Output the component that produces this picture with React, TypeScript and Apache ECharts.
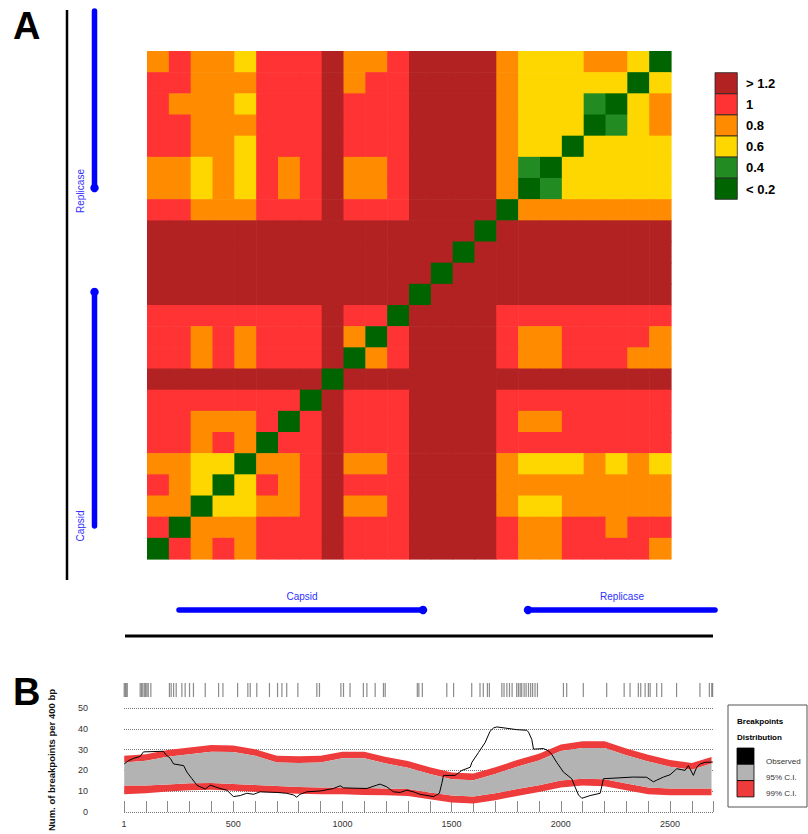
import React, { useEffect, useRef } from "react";
import * as echarts from "echarts";

// ---- Panel A: pairwise ratio matrix (rows listed top to bottom, columns left to right)
const D = 1.3, R = 1.0, O = 0.8, Y = 0.6, g = 0.4, G = 0.1;
const ratioRowsTopDown: number[][] = [
  [O, R, O, O, Y, R, R, R, D, O, O, R, D, D, D, D, O, Y, Y, Y, O, O, Y, G],
  [R, R, O, O, O, R, R, R, D, O, R, R, D, D, D, D, O, Y, Y, Y, Y, Y, G, Y],
  [R, O, O, O, Y, R, R, R, D, R, R, R, D, D, D, D, O, Y, Y, Y, g, G, Y, O],
  [R, R, O, O, O, R, R, R, D, R, R, R, D, D, D, D, O, Y, Y, Y, G, g, Y, O],
  [R, R, O, O, Y, R, R, R, D, R, R, R, D, D, D, D, O, Y, Y, G, Y, Y, Y, Y],
  [O, O, Y, O, Y, R, O, R, D, O, O, R, D, D, D, D, O, g, G, Y, Y, Y, Y, Y],
  [O, O, Y, O, Y, R, O, R, D, O, O, R, D, D, D, D, O, G, g, Y, Y, Y, Y, Y],
  [R, R, O, O, O, R, R, R, D, R, R, R, D, D, D, D, G, O, O, O, O, O, O, O],
  [D, D, D, D, D, D, D, D, D, D, D, D, D, D, D, G, D, D, D, D, D, D, D, D],
  [D, D, D, D, D, D, D, D, D, D, D, D, D, D, G, D, D, D, D, D, D, D, D, D],
  [D, D, D, D, D, D, D, D, D, D, D, D, D, G, D, D, D, D, D, D, D, D, D, D],
  [D, D, D, D, D, D, D, D, D, D, D, D, G, D, D, D, D, D, D, D, D, D, D, D],
  [R, R, R, R, R, R, R, R, D, R, R, G, D, D, D, D, R, R, R, R, R, R, R, R],
  [R, R, O, R, O, R, R, R, D, O, G, R, D, D, D, D, R, O, O, R, R, R, R, O],
  [R, R, O, R, O, R, R, R, D, G, O, R, D, D, D, D, R, O, O, R, R, R, O, O],
  [D, D, D, D, D, D, D, D, G, D, D, D, D, D, D, D, D, D, D, D, D, D, D, D],
  [R, R, R, R, R, R, R, G, D, R, R, R, D, D, D, D, R, R, R, R, R, R, R, R],
  [R, R, O, O, O, R, G, R, D, R, R, R, D, D, D, D, R, O, O, R, R, R, R, R],
  [R, R, O, R, O, G, R, R, D, R, R, R, D, D, D, D, R, R, R, R, R, R, R, R],
  [O, O, Y, Y, G, O, O, R, D, O, O, R, D, D, D, D, O, Y, Y, Y, O, Y, O, Y],
  [R, O, Y, G, Y, R, O, R, D, R, R, R, D, D, D, D, O, O, O, O, O, O, O, O],
  [O, O, G, Y, Y, O, O, R, D, O, O, R, D, D, D, D, O, Y, Y, O, O, O, O, O],
  [R, G, O, O, O, R, R, R, D, R, R, R, D, D, D, D, R, O, O, R, R, O, R, R],
  [G, R, O, R, O, R, R, R, D, R, R, R, D, D, D, D, R, O, O, R, R, R, R, O],
];

const legendLabels = ["> 1.2", "1", "0.8", "0.6", "0.4", "< 0.2"];
const legendColors = ["#B22222", "#FF3333", "#FF8C00", "#FFD700", "#228B22", "#006400"];

// ---- Panel B: breakpoint distribution
const bandPos = [1, 100, 200, 300, 400, 500, 600, 700, 800, 900, 1000, 1100, 1200, 1300, 1400, 1500, 1600, 1700, 1800, 1900, 2000, 2100, 2200, 2300, 2400, 2500, 2600, 2690];
const ci99Upper = [27.0, 27.8, 29.8, 31.0, 32.2, 32.0, 30.2, 27.0, 26.8, 27.0, 29.0, 29.0, 26.5, 24.5, 21.5, 19.0, 18.5, 21.5, 25.0, 28.0, 32.5, 34.0, 34.0, 30.5, 27.5, 25.0, 23.5, 26.5];
const ci95Upper = [23.8, 24.6, 26.6, 27.8, 29.0, 28.8, 27.0, 23.8, 23.6, 23.8, 25.8, 25.8, 23.3, 21.3, 18.3, 15.8, 15.3, 18.3, 21.8, 24.8, 29.3, 30.8, 30.8, 27.3, 24.3, 21.8, 20.3, 23.3];
const ci95Lower = [12.8, 12.8, 13.2, 13.8, 14.0, 13.5, 13.0, 12.5, 12.0, 11.8, 11.8, 11.5, 11.3, 11.0, 9.4, 7.9, 7.4, 9.0, 11.0, 12.9, 15.1, 16.0, 15.7, 13.7, 11.8, 11.3, 11.3, 11.3];
const ci99Lower = [8.5, 9.0, 9.9, 10.5, 10.7, 10.2, 9.7, 9.2, 8.8, 8.5, 8.5, 8.2, 8.0, 7.7, 6.1, 4.6, 4.1, 5.7, 7.7, 9.6, 11.8, 12.7, 12.4, 10.4, 8.5, 8.0, 8.0, 8.0];

const observedPos = [1, 21, 44, 74, 89, 181, 189, 212, 227, 273, 288, 311, 334, 349, 372, 395, 418, 440, 471, 501, 532, 562, 593, 623, 700, 745, 776, 791, 806, 837, 898, 959, 990, 1005, 1112, 1157, 1173, 1203, 1234, 1264, 1295, 1325, 1356, 1417, 1444, 1455, 1463, 1516, 1547, 1585, 1593, 1623, 1653, 1676, 1692, 1707, 1798, 1844, 1852, 1867, 1875, 1920, 1943, 1958, 1981, 2012, 2050, 2065, 2081, 2096, 2134, 2180, 2187, 2195, 2332, 2393, 2424, 2439, 2470, 2500, 2531, 2569, 2584, 2607, 2622, 2638, 2661, 2696];
const observedVal = [23.1, 24.7, 25.8, 26.7, 28.9, 29.2, 27.8, 25.8, 23.1, 22.3, 19.2, 16.0, 12.9, 12.1, 11.0, 12.9, 12.1, 11.3, 10.5, 7.4, 7.9, 9.0, 8.5, 9.7, 9.4, 9.0, 8.2, 7.1, 8.5, 9.7, 10.1, 11.3, 12.6, 11.6, 11.3, 12.9, 13.4, 12.1, 9.7, 9.4, 10.5, 9.7, 8.5, 7.4, 9.0, 13.7, 17.6, 17.6, 20.0, 21.5, 23.9, 28.6, 33.3, 38.8, 40.4, 40.9, 39.6, 39.3, 38.4, 34.9, 30.2, 30.5, 29.4, 27.8, 23.9, 19.2, 16.0, 12.1, 8.2, 6.6, 7.9, 9.0, 12.1, 16.0, 16.8, 16.7, 14.5, 15.3, 16.8, 17.9, 20.8, 20.0, 22.3, 17.6, 21.5, 23.1, 23.9, 24.0];

const breakpointPos = [1, 6, 10, 15, 74, 80, 86, 93, 99, 105, 111, 123, 208, 216, 227, 239, 265, 280, 300, 318, 372, 433, 453, 520, 567, 578, 608, 666, 703, 723, 745, 796, 883, 895, 993, 1005, 1035, 1096, 1112, 1150, 1188, 1196, 1343, 1350, 1366, 1478, 1509, 1592, 1630, 1645, 1664, 1673, 1730, 1740, 1753, 1765, 1777, 1798, 1806, 1814, 1821, 1832, 1841, 1852, 1862, 1871, 1882, 1893, 2012, 2027, 2103, 2210, 2290, 2317, 2355, 2366, 2386, 2401, 2409, 2439, 2462, 2530, 2637, 2680, 2691, 2695];

const bLegendLabels = ["Observed", "95% C.I.", "99% C.I."];
const bLegendColors = ["#000000", "#B3B3B3", "#EE3B3B"];

const FONT = "'Liberation Sans', Arial, sans-serif";
const BLUE = "#0000FF";

function bandSeries(lo: number[], hi: number[], color: string, z: number) {
  return {
    type: "custom",
    xAxisIndex: 1,
    yAxisIndex: 1,
    silent: true,
    z,
    data: bandPos.map((x, i) => [x, lo[i], hi[i]]),
    renderItem: (params: any, api: any) => {
      if (params.dataIndex !== 0) return null;
      const top = bandPos.map((x, i) => api.coord([x, hi[i]]));
      const bot = bandPos.map((x, i) => api.coord([x, lo[i]])).reverse();
      return { type: "polygon", shape: { points: top.concat(bot) }, style: { fill: color } };
    },
  };
}

export default function App() {
  const ref = useRef<HTMLDivElement>(null);
  useEffect(() => {
    const chart = echarts.init(ref.current!, null, { renderer: "svg" });
    const n = ratioRowsTopDown.length;
    const idx = Array.from({ length: n }, (_, i) => String(i));
    const heatData: number[][] = [];
    ratioRowsTopDown.forEach((row, r) => row.forEach((v, c) => heatData.push([c, n - 1 - r, v])));

    const graphic: any[] = [
      { type: "text", style: { text: "A", x: 13, y: 26, font: `bold 38px ${FONT}`, fill: "#000", textVerticalAlign: "middle" } },
      { type: "text", style: { text: "B", x: 13, y: 692, font: `bold 38px ${FONT}`, fill: "#000", textVerticalAlign: "middle" } },
      { type: "line", shape: { x1: 67, y1: 10, x2: 67, y2: 580 }, style: { stroke: "#000", lineWidth: 2.5 } },
      { type: "line", shape: { x1: 125, y1: 636, x2: 713, y2: 636 }, style: { stroke: "#000", lineWidth: 3 } },
      // vertical gene arrows
      { type: "line", shape: { x1: 94.5, y1: 11, x2: 94.5, y2: 188 }, style: { stroke: BLUE, lineWidth: 5.5, lineCap: "round" } },
      { type: "circle", shape: { cx: 94.5, cy: 188, r: 4.2 }, style: { fill: BLUE } },
      { type: "line", shape: { x1: 94.5, y1: 292, x2: 94.5, y2: 526 }, style: { stroke: BLUE, lineWidth: 5.5, lineCap: "round" } },
      { type: "circle", shape: { cx: 94.5, cy: 292, r: 4.2 }, style: { fill: BLUE } },
      { type: "text", x: 80, y: 191, rotation: Math.PI / 2, style: { text: "Replicase", x: 0, y: 0, font: `10px ${FONT}`, fill: "#3030FF", textAlign: "center", textVerticalAlign: "middle" } },
      { type: "text", x: 80, y: 526, rotation: Math.PI / 2, style: { text: "Capsid", x: 0, y: 0, font: `10px ${FONT}`, fill: "#3030FF", textAlign: "center", textVerticalAlign: "middle" } },
      // horizontal gene arrows
      { type: "line", shape: { x1: 179, y1: 610, x2: 423, y2: 610 }, style: { stroke: BLUE, lineWidth: 5.5, lineCap: "round" } },
      { type: "circle", shape: { cx: 423, cy: 610, r: 4.2 }, style: { fill: BLUE } },
      { type: "line", shape: { x1: 528, y1: 610, x2: 715, y2: 610 }, style: { stroke: BLUE, lineWidth: 5.5, lineCap: "round" } },
      { type: "circle", shape: { cx: 528, cy: 610, r: 4.2 }, style: { fill: BLUE } },
      { type: "text", style: { text: "Capsid", x: 302, y: 596, font: `10px ${FONT}`, fill: "#3030FF", textAlign: "center", textVerticalAlign: "middle" } },
      { type: "text", style: { text: "Replicase", x: 622, y: 596, font: `10px ${FONT}`, fill: "#3030FF", textAlign: "center", textVerticalAlign: "middle" } },
      // panel B legend box
      { type: "rect", shape: { x: 728, y: 705, width: 79, height: 102 }, style: { fill: "#fff", stroke: "#555", lineWidth: 1 } },
      { type: "text", style: { text: "Breakpoints", x: 737, y: 721, font: `bold 8px ${FONT}`, fill: "#000", textVerticalAlign: "middle" } },
      { type: "text", style: { text: "Distribution", x: 737, y: 737, font: `bold 8px ${FONT}`, fill: "#000", textVerticalAlign: "middle" } },
    ];
    legendLabels.forEach((lab, i) => {
      graphic.push({ type: "rect", shape: { x: 715, y: 72.7 + i * 21.1, width: 22.3, height: 21.1 }, style: { fill: legendColors[i], stroke: "#222", lineWidth: 0.8 } });
      graphic.push({ type: "text", style: { text: lab, x: 746, y: 72.7 + i * 21.1 + 10.8, font: `bold 13px ${FONT}`, fill: "#000", textVerticalAlign: "middle" } });
    });
    bLegendLabels.forEach((lab, i) => {
      graphic.push({ type: "rect", shape: { x: 737, y: 748 + i * 16.3, width: 17, height: 16.3 }, style: { fill: bLegendColors[i], stroke: "#000", lineWidth: 0.8 } });
      graphic.push({ type: "text", style: { text: lab, x: 766, y: 761 + i * 16, font: `8px ${FONT}`, fill: "#333", textVerticalAlign: "middle" } });
    });

    const option: any = {
      animation: false,
      backgroundColor: "#fff",
      textStyle: { fontFamily: FONT },
      grid: [
        { left: 147, top: 51, width: 524, height: 508 },
        { left: 124, top: 708, width: 589.7, height: 106 },
        { left: 124, top: 683, width: 589.7, height: 14 },
      ],
      xAxis: [
        { gridIndex: 0, type: "category", data: idx, show: false },
        {
          gridIndex: 1, type: "value", min: 0, max: 2700, interval: 100, offset: 4,
          axisLine: { show: false },
          axisTick: { show: true, inside: true, length: 11, lineStyle: { color: "#8a8a8a", width: 1 } },
          splitLine: { show: false },
          axisLabel: { margin: 3, fontSize: 9, color: "#333", formatter: (v: number) => (v === 0 ? "1" : v % 500 === 0 ? String(v) : "") },
        },
        { gridIndex: 2, type: "value", min: 0, max: 2700, show: false },
      ],
      yAxis: [
        { gridIndex: 0, type: "category", data: idx, show: false },
        {
          gridIndex: 1, type: "value", min: 0, max: 50, interval: 10,
          axisLine: { show: false }, axisTick: { show: false },
          axisLabel: { margin: 36, fontSize: 9, color: "#333" },
          splitLine: { lineStyle: { type: "dotted", color: "#777", width: 1 } },
          name: "Num. of breakpoints per 400 bp", nameLocation: "middle", nameGap: 68, nameRotate: 90,
          nameTextStyle: { fontWeight: "bold", fontSize: 9.5, color: "#111" },
        },
        { gridIndex: 2, type: "value", min: 0, max: 1, show: false },
      ],
      visualMap: {
        type: "piecewise", show: false, seriesIndex: 0, dimension: 2,
        pieces: [
          { gt: 1.2, color: legendColors[0] },
          { gt: 0.9, lte: 1.2, color: legendColors[1] },
          { gt: 0.7, lte: 0.9, color: legendColors[2] },
          { gt: 0.5, lte: 0.7, color: legendColors[3] },
          { gt: 0.3, lte: 0.5, color: legendColors[4] },
          { lte: 0.3, color: legendColors[5] },
        ],
      },
      series: [
        {
          type: "custom", xAxisIndex: 0, yAxisIndex: 0, silent: true, data: heatData,
          encode: { x: 0, y: 1 },
          renderItem: (params: any, api: any) => {
            const c = api.coord([api.value(0), api.value(1)]);
            const s = api.size([1, 1]);
            return {
              type: "rect",
              shape: { x: c[0] - s[0] / 2, y: c[1] - s[1] / 2, width: s[0] + 0.6, height: s[1] + 0.6 },
              style: { fill: api.visual("color") },
            };
          },
        },
        bandSeries(ci99Lower, ci95Lower, bLegendColors[2], 2),
        bandSeries(ci95Upper, ci99Upper, bLegendColors[2], 2),
        bandSeries(ci95Lower, ci95Upper, bLegendColors[1], 3),
        {
          type: "line", xAxisIndex: 1, yAxisIndex: 1, name: "Observed", symbol: "none", silent: true, z: 5,
          data: observedPos.map((x, i) => [x, observedVal[i]]), lineStyle: { color: "#000", width: 1 },
        },
        {
          type: "scatter", xAxisIndex: 2, yAxisIndex: 2, silent: true, symbol: "rect", symbolSize: [1.2, 14],
          data: breakpointPos.map((p) => [p, 0.5]), itemStyle: { color: "#6e6e6e" },
        },
      ],
      graphic,
    };
    chart.setOption(option);
    return () => chart.dispose();
  }, []);
  return <div ref={ref} style={{ position: "fixed", left: 0, top: 0, width: 808, height: 834, background: "#fff" }} />;
}
